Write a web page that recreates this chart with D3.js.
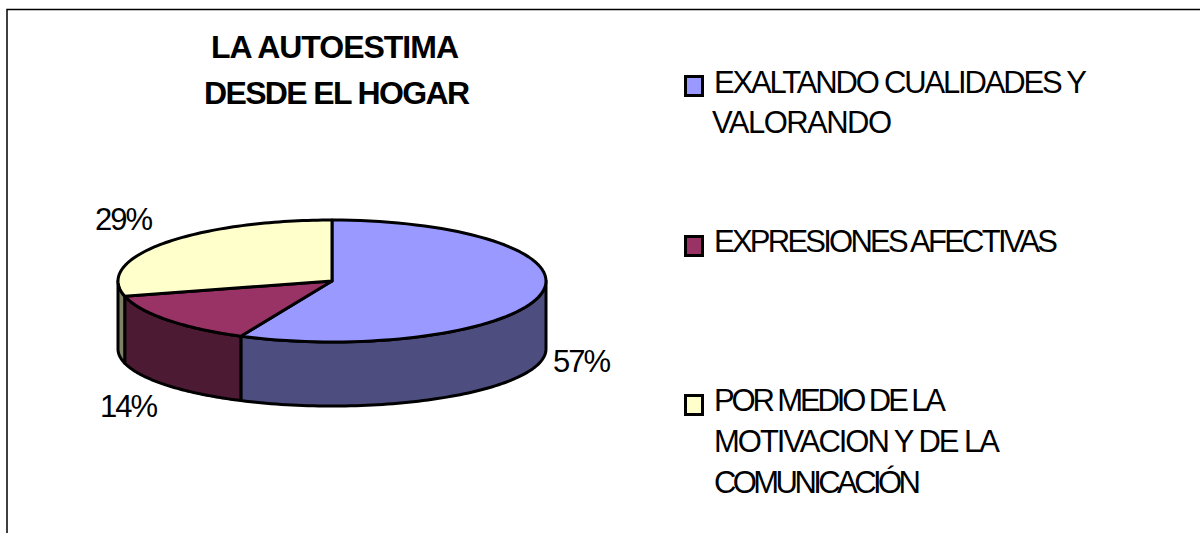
<!DOCTYPE html>
<html><head><meta charset="utf-8">
<script src="https://cdn.jsdelivr.net/npm/d3@7/dist/d3.min.js"></script>
<style>html,body{margin:0;padding:0;background:#fff}svg{display:block}text{font-family:"Liberation Sans",Arial,sans-serif;fill:#000}</style>
</head><body><svg id="c" width="1200" height="533"></svg>
<script>
const categories = ["EXALTANDO CUALIDADES Y VALORANDO","EXPRESIONES AFECTIVAS","POR MEDIO DE LA MOTIVACION Y DE LA COMUNICACIÓN"];
const values = [57,14,29];
const labels = ["57%","14%","29%"];
const topColors = ["#9999FF","#993366","#FFFFCC"];
const sideColors = ["#4D4D80","#4D1A33","#808066"];
const titleLines = [["LA AUTOESTIMA",211,459,58],["DESDE EL HOGAR",204,470,104]];
const legendLines = [
  [[ "EXALTANDO CUALIDADES Y",714,1087,93],["VALORANDO",712,892,133]],
  [[ "EXPRESIONES AFECTIVAS",714,1058,252]],
  [[ "POR MEDIO DE LA",714,946,411],["MOTIVACION Y DE LA",714,1000,452],["COMUNICACIÓN",714,921,493]]
];
const swatchY = [75,235,394];
const labelPos = [[553,372],[100,417],[95,230]];

const svg = d3.select("#c");
const cx=332, cy=281, rx=214, ry=61, cyBottom=349, ryBottom=57;
const x = d3.scaleLinear().domain([-1,1]).range([cx-rx,cx+rx]);
const y = d3.scaleLinear().domain([-1,1]).range([cy-ry,cy+ry]);
const yB = d3.scaleLinear().domain([-1,1]).range([cyBottom-ryBottom,cyBottom+ryBottom]);
const pt = a=>[x(Math.sin(a)), y(-Math.cos(a))];
const ptB = a=>[x(Math.sin(a)), yB(-Math.cos(a))];
const sample=(a0,a1)=>d3.range(0,81).map(i=>a0+(a1-a0)*i/80);
const line=d3.line();

svg.append("path").attr("d","M7,533V9.5H1200").attr("fill","none").attr("stroke","#000").attr("stroke-width",1.5);

const arcs = d3.pie().sort(null)(values);
arcs.forEach((s,i)=>{
  const a0=Math.max(s.startAngle,Math.PI/2), a1=Math.min(s.endAngle,3*Math.PI/2);
  if(a1<=a0) return;
  const top=sample(a0,a1).map(pt);
  const bot=sample(a1,a0).map(ptB);
  svg.append("path").attr("d",line(top.concat(bot))+"Z").attr("fill",sideColors[i]).attr("stroke","#000").attr("stroke-width",3).attr("stroke-linejoin","round");
});
arcs.forEach((s,i)=>{
  const pts=[[x(0),y(0)]].concat(sample(s.startAngle,s.endAngle).map(pt));
  svg.append("path").attr("d",line(pts)+"Z").attr("fill",topColors[i]).attr("stroke","#000").attr("stroke-width",3).attr("stroke-linejoin","round");
});
const put=(t,x0,x1,b,size,weight)=>svg.append("text").attr("x",x0).attr("y",b).attr("font-size",size).attr("font-weight",weight||"normal").attr("textLength",x1-x0).attr("lengthAdjust","spacing").text(t);
titleLines.forEach(l=>put(l[0],l[1],l[2],l[3],32,"bold"));
labels.forEach((t,i)=>put(t,labelPos[i][0],labelPos[i][0]+58,labelPos[i][1],31));
categories.forEach((c,i)=>{
  svg.append("rect").attr("x",685.5).attr("y",swatchY[i]+1.5).attr("width",17).attr("height",19).attr("fill",topColors[i]).attr("stroke","#000").attr("stroke-width",3);
  legendLines[i].forEach(l=>put(l[0],l[1],l[2],l[3],31));
});
</script></body></html>
